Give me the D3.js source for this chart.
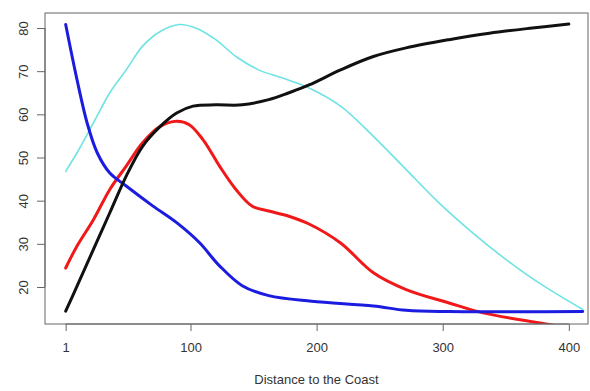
<!DOCTYPE html>
<html>
<head>
<meta charset="utf-8">
<script src="https://cdn.jsdelivr.net/npm/d3@7"></script>
<style>
body { margin: 0; background: #fff; }
text { font-family: "Liberation Sans", Arial, sans-serif; fill: #333; }
</style>
</head>
<body>
<div id="chart"></div>
<script>
// values: [distance, value]
var blueLine = [[1,80.8],[10,68.0],[18,58.0],[26,51.1],[36,46.4],[49,43.4],[70,38.8],[89,34.9],
    [107,30.3],[123,24.9],[141,20.3],[162,18.0],[196,16.7],[245,15.6],[271,14.6],[305,14.3],[411,14.3]];
var redLine = [[1,24.4],[10,29.5],[23,35.6],[36,42.6],[49,48.0],[62,53.4],[76,57.2],[89,58.4],
    [99,57.6],[110,54.1],[123,48.0],[136,42.6],[149,38.7],[162,37.6],[178,36.4],[194,34.6],
    [219,30.2],[245,23.3],[271,19.4],[305,16.3],[332,14.0],[376,11.7],[395,10.8]];
var blackLine = [[1,14.4],[10,20.2],[23,28.7],[36,37.2],[49,45.7],[62,52.6],[76,57.2],[89,60.3],
    [102,61.9],[120,62.2],[141,62.2],[162,63.4],[178,65.0],[194,66.8],[219,70.3],[245,73.4],
    [271,75.4],[305,77.3],[337,78.8],[371,80.0],[400,80.9]];
var cyanLine = [[1,46.8],[10,51.1],[23,58.0],[36,65.0],[49,70.3],[62,75.8],[76,79.2],[91,80.8],
    [104,80.0],[120,77.3],[136,73.4],[154,70.3],[173,68.4],[194,66.1],[219,61.9],[245,54.9],
    [271,47.2],[297,39.5],[324,32.5],[350,26.4],[376,21.0],[411,14.8]];

var xTicks = [1, 100, 200, 300, 400];
var yTicks = [20, 30, 40, 50, 60, 70, 80];

var series = [
    { data: cyanLine, color: "#6fe3e3", width: 1.6 },
    { data: redLine, color: "#f01818", width: 3 },
    { data: blueLine, color: "#1c1ce0", width: 3 },
    { data: blackLine, color: "#111111", width: 3 }
];

var W = 590, H = 391;
var box = { left: 45, right: 588, top: 13, bottom: 324 };

var svg = d3.select("#chart").append("svg")
    .attr("width", W)
    .attr("height", H);

var xScale = d3.scaleLinear().domain([-15.4, 415.2]).range([box.left, box.right]);
var yScale = d3.scaleLinear().domain([20, 80]).range([287, 28]);

svg.append("clipPath").attr("id", "plot-clip")
    .append("rect")
    .attr("x", box.left).attr("y", box.top)
    .attr("width", box.right - box.left).attr("height", box.bottom - box.top);

var line = d3.line()
    .x(function(d) { return xScale(d[0]); })
    .y(function(d) { return yScale(d[1]); })
    .curve(d3.curveCatmullRom.alpha(0.5));

svg.append("g").attr("clip-path", "url(#plot-clip)")
    .selectAll("path")
    .data(series)
    .enter().append("path")
    .attr("d", function(d) { return line(d.data); })
    .attr("fill", "none")
    .attr("stroke", function(d) { return d.color; })
    .attr("stroke-width", function(d) { return d.width; })
    .attr("stroke-linecap", "round")
    .attr("stroke-linejoin", "round");

// box
svg.append("rect")
    .attr("x", box.left).attr("y", box.top)
    .attr("width", box.right - box.left).attr("height", box.bottom - box.top)
    .attr("fill", "none").attr("stroke", "#666").attr("stroke-width", 1);

// x axis (R style: axis line only between first and last tick)
var xAxis = d3.axisBottom(xScale).tickValues(xTicks).tickSize(7).tickSizeOuter(0).tickPadding(12);
var gx = svg.append("g").attr("transform", "translate(0," + box.bottom + ")").call(xAxis);
gx.select(".domain").remove();
gx.append("line")
    .attr("x1", xScale(xTicks[0])).attr("x2", xScale(xTicks[xTicks.length - 1]))
    .attr("stroke", "#666");
gx.selectAll(".tick line").attr("stroke", "#666");
gx.selectAll("text").style("font-size", "13px").attr("fill", "#333");

// y axis
var yAxis = d3.axisLeft(yScale).tickValues(yTicks).tickSize(8).tickSizeOuter(0).tickPadding(0);
var gy = svg.append("g").attr("transform", "translate(" + box.left + ",0)").call(yAxis);
gy.select(".domain").remove();
gy.append("line")
    .attr("y1", yScale(yTicks[0])).attr("y2", yScale(yTicks[yTicks.length - 1]))
    .attr("stroke", "#666");
gy.selectAll(".tick line").attr("stroke", "#666");
gy.selectAll("text")
    .style("font-size", "13px")
    .attr("fill", "#333")
    .attr("x", 0).attr("dy", 0)
    .attr("text-anchor", "middle")
    .attr("transform", "translate(-21,0) rotate(-90)")
    .attr("y", 4);

svg.append("text")
    .attr("x", (box.left + box.right) / 2)
    .attr("y", 384)
    .attr("text-anchor", "middle")
    .style("font-size", "13px")
    .text("Distance to the Coast");
</script>
</body>
</html>
